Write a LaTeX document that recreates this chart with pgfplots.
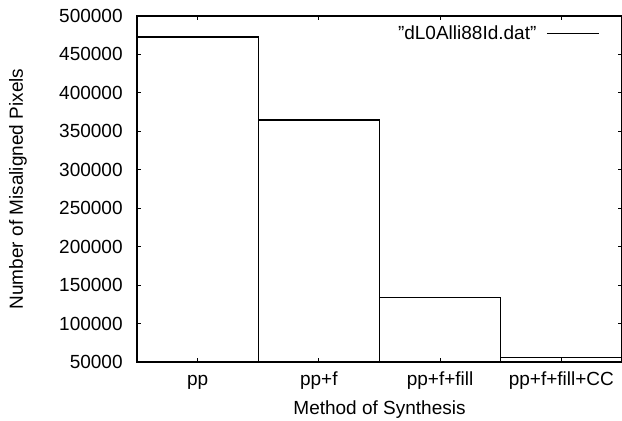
\documentclass[border=0pt]{standalone}
\usepackage{fontspec}
\setmainfont{Liberation Sans}[Ligatures=ResetAll]
\usepackage{pgfplots}
\pgfplotsset{compat=1.18}
\begin{document}
\fontsize{9.5pt}{11pt}\selectfont
\begin{tikzpicture}
\useasboundingbox (0,0) rectangle (311pt,210.5pt);
\begin{axis}[
  at={(68.5pt,29.5pt)}, anchor=south west,
  scale only axis, width=242.5pt, height=173pt,
  xmin=-0.5, xmax=3.5, ymin=50000, ymax=500000,
  ybar, bar width=1,
  xtick=data,
  xticklabels={pp, pp+f, pp+f+fill, pp+f+fill+CC},
  ytick={50000,100000,150000,200000,250000,300000,350000,400000,450000,500000},
  scaled y ticks=false,
  /pgf/number format/assume math mode=true,
  yticklabel style={/pgf/number format/fixed, /pgf/number format/1000 sep={},
    anchor=east, inner sep=0pt, xshift=-7pt},
  xticklabel style={anchor=base, yshift=-12pt},
  tick align=inside,
  major tick length=2pt,
  major tick style={black, line width=0.5pt},
  axis line style={line width=0.8pt},
  xlabel={Method of Synthesis},
  ylabel={Number of Misaligned Pixels},
  xlabel style={at={(axis description cs:0.5,-0.1387)}, anchor=center},
  ylabel style={at={(axis description cs:-0.2454,0.5)}, anchor=center},
  legend plot pos=right,
  legend image code/.code={\draw[line width=0.6pt] (0pt,0pt) -- (26pt,0pt);},
  legend style={draw=none, fill=none, at={(1,1)}, anchor=north east,
    xshift=-11pt, yshift=-4.5pt, inner sep=0pt, nodes={inner sep=0pt},
    column sep=5pt},
]
\addplot[draw=black, fill=none, line width=0.6pt] coordinates {
  (0, 472700)
  (1, 364800)
  (2, 134300)
  (3, 55700)
};
\legend{"dL0Alli88Id.dat"}
\end{axis}
\end{tikzpicture}
\end{document}
